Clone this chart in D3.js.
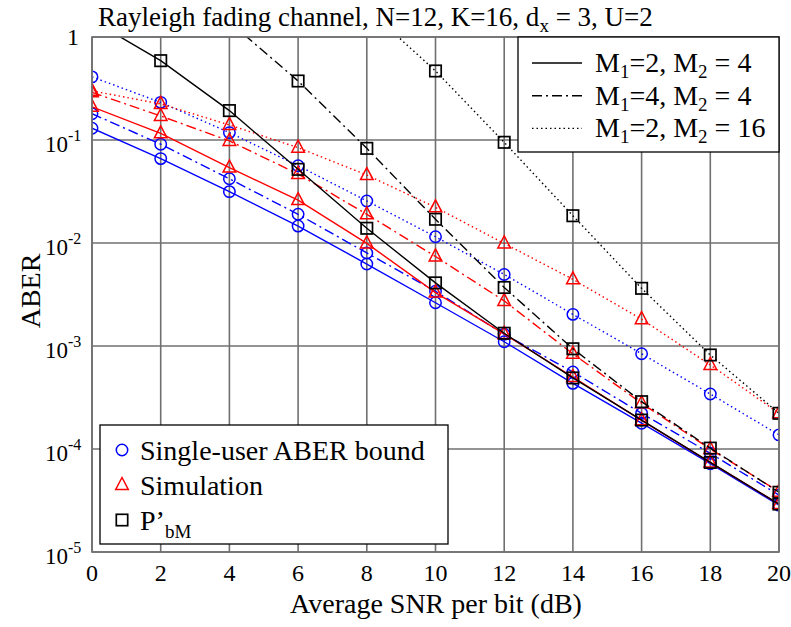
<!DOCTYPE html>
<html>
<head>
<meta charset="utf-8">
<script src="https://cdn.jsdelivr.net/npm/d3@7"></script>
<style>
  body { margin: 0; background: #fff; }
  svg text { font-family: "Liberation Serif", "Times New Roman", serif; fill: #000; }
</style>
</head>
<body>
<div id="chart"></div>
<script>
// x values (dB)
var snr = [0, 2, 4, 6, 8, 10, 12, 14, 16, 18, 20];

// single-user ABER bound (blue circles)
var bound_2_4  = [0.13, 0.066, 0.0315, 0.0146, 0.00625, 0.00263, 0.0011, 0.000434, 0.000178, 0.000072, 0.0000285];
var bound_4_4  = [0.18, 0.091, 0.042, 0.019, 0.008, 0.0034, 0.0013, 0.00056, 0.000222, 0.0000908, 0.0000357];
var bound_2_16 = [0.41, 0.232, 0.118, 0.0563, 0.0256, 0.0115, 0.00495, 0.00203, 0.00084, 0.000342, 0.000137];

// simulation (red triangles)
var sim_2_4  = [0.21, 0.116, 0.054, 0.0261, 0.0099, 0.0033, 0.00131, 0.0005, 0.00019, 0.000074, 0.0000292];
var sim_4_4  = [0.29, 0.171, 0.098, 0.0468, 0.019, 0.0074, 0.00274, 0.00084, 0.000278, 0.0001, 0.0000385];
var sim_2_16 = [0.30, 0.224, 0.14, 0.0843, 0.0457, 0.0222, 0.0099, 0.00444, 0.00182, 0.000655, 0.000222];

// P'bM (black squares), null = not drawn
var pbm_2_4  = [1.45, 0.589, 0.193, 0.0519, 0.0139, 0.0041, 0.00133, 0.00049, 0.000191, 0.0000741, 0.0000292];
var pbm_4_4  = [null, null, 1.4, 0.374, 0.083, 0.017, 0.0037, 0.00094, 0.000288, 0.000102, 0.000038];
var pbm_2_16 = [null, null, null, null, 1.9, 0.468, 0.095, 0.0184, 0.00363, 0.000818, 0.000222];

var xTicks = [0, 2, 4, 6, 8, 10, 12, 14, 16, 18, 20];
var yTicks = [1, 0.1, 0.01, 0.001, 0.0001, 0.00001];
var yTickExp = ['', '-1', '-2', '-3', '-4', '-5'];

var configLabels = [['M', '1', '=2, M', '2', ' = 4'], ['M', '1', '=4, M', '2', ' = 4'], ['M', '1', '=2, M', '2', ' = 16']];
var typeLabels = ['Single-user ABER bound', 'Simulation', "P’"];

var width = 791, height = 627;
var pLeft = 92, pRight = 779, pTop = 37, pBottom = 552;

var svg = d3.select('#chart').append('svg')
  .attr('width', width)
  .attr('height', height);

var x = d3.scaleLinear().domain([0, 20]).range([pLeft, pRight]);
var y = d3.scaleLog().domain([1e-5, 1]).range([pBottom, pTop]);

var dashes = ['none', '10,4,2,4', '1.5,3'];

//grid lines
var grid = svg.append('g').attr('stroke', '#707070').attr('stroke-width', 1.6);
grid.selectAll('.gx').data(xTicks).enter().append('line')
  .attr('x1', d => x(d)).attr('x2', d => x(d))
  .attr('y1', pTop).attr('y2', pBottom);
grid.selectAll('.gy').data(yTicks).enter().append('line')
  .attr('x1', pLeft).attr('x2', pRight)
  .attr('y1', d => y(d)).attr('y2', d => y(d));

svg.append('clipPath').attr('id', 'plotclip').append('rect')
  .attr('x', pLeft).attr('y', pTop).attr('width', pRight - pLeft).attr('height', pBottom - pTop);

var plot = svg.append('g').attr('clip-path', 'url(#plotclip)');

var series = [
  { data: bound_2_4, color: '#0000ff', marker: 'circle', dash: 0 },
  { data: bound_4_4, color: '#0000ff', marker: 'circle', dash: 1 },
  { data: bound_2_16, color: '#0000ff', marker: 'circle', dash: 2 },
  { data: sim_2_4, color: '#ff0000', marker: 'triangle', dash: 0 },
  { data: sim_4_4, color: '#ff0000', marker: 'triangle', dash: 1 },
  { data: sim_2_16, color: '#ff0000', marker: 'triangle', dash: 2 },
  { data: pbm_2_4, color: '#000000', marker: 'square', dash: 0 },
  { data: pbm_4_4, color: '#000000', marker: 'square', dash: 1 },
  { data: pbm_2_16, color: '#000000', marker: 'square', dash: 2 }
];

var line = d3.line()
  .defined(d => d[1] != null)
  .x(d => x(d[0]))
  .y(d => y(d[1]));

const drawMarker = (g, type, cx, cy, color) => {
  if (type === 'circle') {
    g.append('circle').attr('cx', cx).attr('cy', cy).attr('r', 5.7)
      .attr('fill', 'none').attr('stroke', color).attr('stroke-width', 1.5);
  } else if (type === 'triangle') {
    g.append('path')
      .attr('d', 'M' + cx + ',' + (cy - 7.5) + 'L' + (cx + 6.3) + ',' + (cy + 4.5) + 'L' + (cx - 6.3) + ',' + (cy + 4.5) + 'Z')
      .attr('fill', 'none').attr('stroke', color).attr('stroke-width', 1.5);
  } else {
    g.append('rect').attr('x', cx - 5.7).attr('y', cy - 5.7).attr('width', 11.4).attr('height', 11.4)
      .attr('fill', 'none').attr('stroke', color).attr('stroke-width', 1.7);
  }
};

series.forEach(s => {
  var pts = snr.map((v, i) => [v, s.data[i]]);
  plot.append('path')
    .attr('d', line(pts))
    .attr('fill', 'none')
    .attr('stroke', s.color)
    .attr('stroke-width', 1.4)
    .attr('stroke-dasharray', dashes[s.dash]);
  pts.filter(p => p[1] != null).forEach(p => {
    drawMarker(plot, s.marker, x(p[0]), y(p[1]), s.color);
  });
});

// axes box
svg.append('rect')
  .attr('x', pLeft).attr('y', pTop).attr('width', pRight - pLeft).attr('height', pBottom - pTop)
  .attr('fill', 'none').attr('stroke', '#707070').attr('stroke-width', 1.6);

// x tick labels
svg.selectAll('.xt').data(xTicks).enter().append('text')
  .attr('x', d => x(d)).attr('y', 581)
  .attr('text-anchor', 'middle')
  .style('font-size', '24px')
  .text(d => d);

// y tick labels
yTicks.forEach((t, i) => {
  if (i === 0) {
    svg.append('text').attr('x', 79).attr('y', y(t) + 8)
      .attr('text-anchor', 'end').style('font-size', '24px').text('1');
  } else {
    var tx = svg.append('text').attr('x', 45).attr('y', y(t) + 12).style('font-size', '23px');
    tx.append('tspan').text('10');
    tx.append('tspan').attr('dy', -11).style('font-size', '16px').text(yTickExp[i]);
  }
});

// axis labels
svg.append('text')
  .attr('x', 436).attr('y', 613)
  .attr('text-anchor', 'middle')
  .style('font-size', '28px')
  .text('Average SNR per bit (dB)');

svg.append('text')
  .attr('transform', 'translate(40,291) rotate(-90)')
  .attr('text-anchor', 'middle')
  .style('font-size', '28px')
  .text('ABER');

// title
var title = svg.append('text')
  .attr('x', 98).attr('y', 26)
  .style('font-size', '27px');
title.append('tspan').text('Rayleigh fading channel, N=12, K=16, d');
title.append('tspan').attr('dy', 6).style('font-size', '19px').text('x');
title.append('tspan').attr('dy', -6).text(' = 3, U=2');

// line style legend
var leg1 = svg.append('g');
leg1.append('rect').attr('x', 518).attr('y', pTop).attr('width', pRight - 518).attr('height', 115)
  .attr('fill', '#fff').attr('stroke', '#000').attr('stroke-width', 1.3);
configLabels.forEach((lab, i) => {
  var ly = 63 + i * 32.7;
  leg1.append('line').attr('x1', 532).attr('x2', 582).attr('y1', ly).attr('y2', ly)
    .attr('stroke', '#000').attr('stroke-width', 1.4).attr('stroke-dasharray', dashes[i]);
  var t = leg1.append('text').attr('x', 595).attr('y', ly + 9).style('font-size', '28px');
  t.append('tspan').text(lab[0]);
  t.append('tspan').attr('dy', 6).style('font-size', '19px').text(lab[1]);
  t.append('tspan').attr('dy', -6).text(lab[2]);
  t.append('tspan').attr('dy', 6).style('font-size', '19px').text(lab[3]);
  t.append('tspan').attr('dy', -6).text(lab[4]);
});

// marker legend
var leg2 = svg.append('g');
leg2.append('rect').attr('x', 100).attr('y', 425).attr('width', 348).attr('height', 119)
  .attr('fill', '#fff').attr('stroke', '#000').attr('stroke-width', 1.3);
var legMarkers = [['circle', '#0000ff'], ['triangle', '#ff0000'], ['square', '#000000']];
typeLabels.forEach((lab, i) => {
  var ly = 450 + i * 35;
  drawMarker(leg2, legMarkers[i][0], 122, ly, legMarkers[i][1]);
  var t = leg2.append('text').attr('x', 140).attr('y', ly + 10).style('font-size', '28px');
  t.append('tspan').text(lab);
  if (i === 2) {
    t.append('tspan').attr('dy', 8).style('font-size', '19px').text('bM');
  }
});
</script>
</body>
</html>
